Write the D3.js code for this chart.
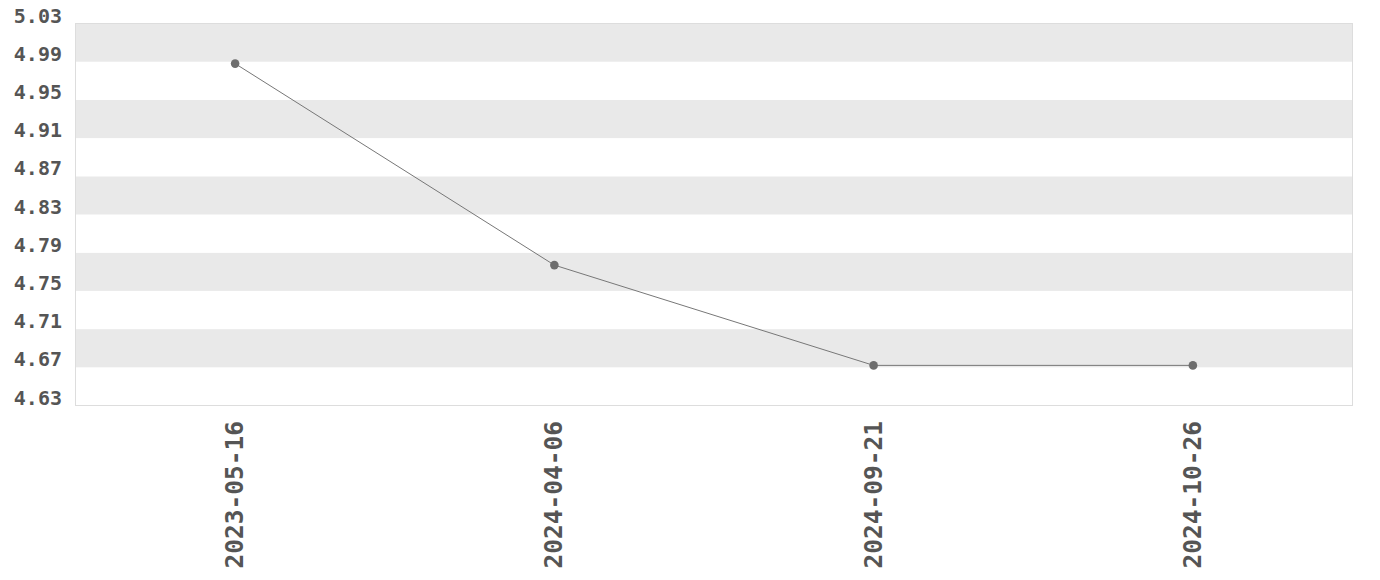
<!DOCTYPE html>
<html>
<head>
<meta charset="utf-8">
<script src="https://cdn.jsdelivr.net/npm/d3@7"></script>
<style>
  body { margin: 0; background: #fff; }
  text { font-family: "DejaVu Sans Mono", monospace; font-weight: bold; fill: #555; }
</style>
</head>
<body>
<script>
// data
var dates = ["2023-05-16", "2024-04-06", "2024-09-21", "2024-10-26"];
var values = [4.988, 4.777, 4.672, 4.672];
var yTicks = [4.63, 4.67, 4.71, 4.75, 4.79, 4.83, 4.87, 4.91, 4.95, 4.99, 5.03];

// plot box
var width = 1380, height = 580;
var plotLeft = 75.5, plotRight = 1352.5, plotTop = 23.5, plotBottom = 405.5;

var svg = d3.select("body").append("svg")
    .attr("width", width)
    .attr("height", height);

var x = d3.scalePoint()
    .domain(dates)
    .range([plotLeft, plotRight])
    .padding(0.5);

var y = d3.scaleLinear()
    .domain([yTicks[0], yTicks[yTicks.length - 1]])
    .range([plotBottom, plotTop]);

// alternating bands, grey one on top
var bands = yTicks.slice(0, -1).map(function(t, i) { return [t, yTicks[i + 1], i]; });
svg.append("g").selectAll("rect")
    .data(bands)
    .enter()
    .append("rect")
    .attr("x", plotLeft)
    .attr("width", plotRight - plotLeft)
    .attr("y", function(d) { return y(d[1]); })
    .attr("height", function(d) { return y(d[0]) - y(d[1]); })
    .attr("fill", function(d) { return (yTicks.length - 2 - d[2]) % 2 == 0 ? "#e9e9e9" : "#fff"; });

// frame
svg.append("rect")
    .attr("x", plotLeft)
    .attr("y", plotTop)
    .attr("width", plotRight - plotLeft)
    .attr("height", plotBottom - plotTop)
    .attr("fill", "none")
    .attr("stroke", "#ddd")
    .attr("stroke-width", 1);

// y labels
svg.append("g").selectAll("text")
    .data(yTicks)
    .enter()
    .append("text")
    .attr("x", 62)
    .attr("y", function(d) { return y(d) - 1; })
    .attr("text-anchor", "end")
    .attr("font-size", 20)
    .text(function(d) { return d3.format(".2f")(d); });

// x labels, rotated
svg.append("g").selectAll("text")
    .data(dates)
    .enter()
    .append("text")
    .attr("transform", function(d) { return "translate(" + (x(d) + 8) + ",421) rotate(-90)"; })
    .attr("text-anchor", "end")
    .attr("font-size", 24.5)
    .text(function(d) { return d; });

// line
var line = d3.line()
    .x(function(d, i) { return x(dates[i]); })
    .y(function(d) { return y(d); });

svg.append("path")
    .datum(values)
    .attr("d", line)
    .attr("fill", "none")
    .attr("stroke", "#777")
    .attr("stroke-width", 1);

svg.append("g").selectAll("circle")
    .data(values)
    .enter()
    .append("circle")
    .attr("cx", function(d, i) { return x(dates[i]); })
    .attr("cy", function(d) { return y(d); })
    .attr("r", 4.3)
    .attr("fill", "#6e6e6e");
</script>
</body>
</html>
